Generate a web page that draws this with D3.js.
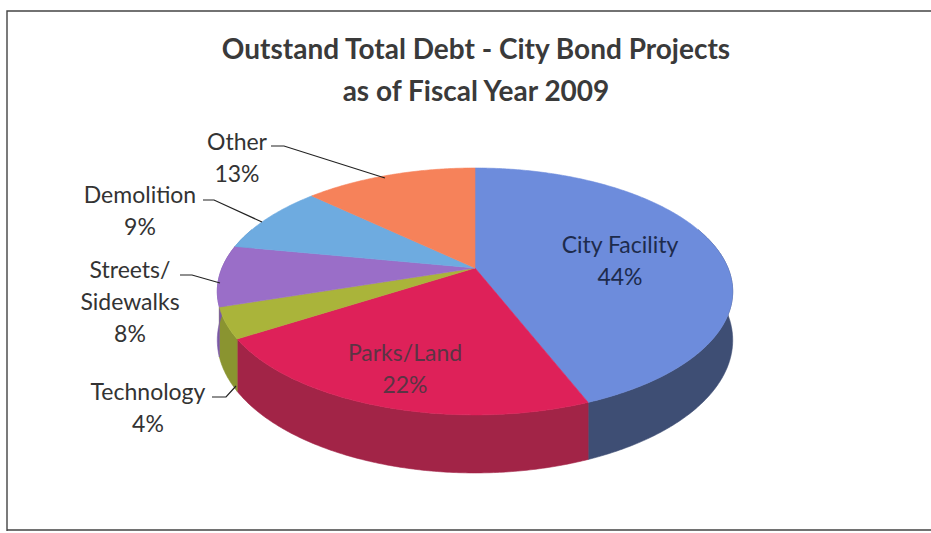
<!DOCTYPE html>
<html>
<head>
<meta charset="utf-8">
<script src="https://cdn.jsdelivr.net/npm/d3@7"></script>
<style>
  html, body { margin: 0; padding: 0; background: #fff; }
  svg { display: block; }
  text { font-family: Lato, "Noto Sans", sans-serif; }
</style>
</head>
<body>
<svg id="chart" width="931" height="533"></svg>
<script>
// Outstanding debt shares by project category (percent)
const categories = ["City Facility", "Parks/Land", "Technology", "Streets/Sidewalks", "Demolition", "Other"];
const shares = [44, 22, 4, 8, 9, 13];
const shareLabels = ["44%", "22%", "4%", "8%", "9%", "13%"];
const titleLines = ["Outstand Total Debt - City Bond Projects", "as of Fiscal Year 2009"];

const topColors  = ["#6d8cdc", "#de2159", "#aab43a", "#9a6ec8", "#6eabe0", "#f6825a"];
const sideColors = ["#3e4e74", "#a22447", "#8a9430", "#7a58a6", "#5a8cba", "#c8683f"];

const svg = d3.select("#chart");

// Frame
svg.append("path")
  .attr("d", "M7,531 L7,11 L931,11 M7,530 L931,530")
  .attr("fill", "none").attr("stroke", "#444").attr("stroke-width", 1.4);

// Title
const title = svg.append("g").attr("fill", "#3a3a3a")
  .attr("font-weight", "bold").attr("text-anchor", "middle");
title.selectAll("text").data(titleLines).join("text")
  .attr("x", 476)
  .attr("y", (d, i) => i === 0 ? 59 : 101)
  .attr("font-size", 28)
  .text(d => d);

// 3D pie geometry: a disc seen from above with mild perspective
const cx = 475, cy = 268, rx = 253, ry = 119, depth = 47, k = 0.19;

const pie = d3.pie().sort(null).value(d => d)
  .startAngle(0).endAngle(2 * Math.PI);
const arcs = pie(shares);

// angle (clockwise from 12 o'clock) -> screen point, dz = height below the top face
const proj = (a, dz = 0) => {
  const X = Math.sin(a), Z = -Math.cos(a);      // Z < 0 is the far side
  const f = 1 / (1 - k * Z);
  return [cx + rx * X * f, cy + (ry * Z + dz) * f];
};
const sample = (a0, a1, dz = 0) => {
  const n = Math.max(2, Math.ceil(Math.abs(a1 - a0) / 0.01));
  return d3.range(n + 1).map(i => proj(a0 + (a1 - a0) * i / n, dz));
};
const line = d3.line();

// Outer walls on the near side
const near0 = Math.PI / 2 - 0.35, near1 = 3 * Math.PI / 2 + 0.35;
const walls = svg.append("g");
arcs.forEach((d, i) => {
  const a0 = Math.max(d.startAngle, near0), a1 = Math.min(d.endAngle, near1);
  if (a1 <= a0) return;
  const pts = sample(a0, a1).concat(sample(a1, a0, depth));
  walls.append("path")
    .attr("d", line(pts) + "Z")
    .attr("fill", sideColors[i])
    .attr("stroke", sideColors[i]).attr("stroke-width", 0.6);
});

// Top faces
const tops = svg.append("g");
arcs.forEach((d, i) => {
  const pts = [proj(0, 0).map((v, j) => j === 0 ? cx : cy)].concat(sample(d.startAngle, d.endAngle));
  tops.append("path")
    .attr("d", line(pts) + "Z")
    .attr("fill", topColors[i])
    .attr("stroke", topColors[i]).attr("stroke-width", 0.6);
});

// Inside labels
const inside = [
  { i: 0, x: 620, y: 253, color: "#1d2b4c" },
  { i: 1, x: 405, y: 361, color: "#5b3444" }
];
inside.forEach(o => {
  const g = svg.append("g").attr("text-anchor", "middle").attr("fill", o.color).attr("font-size", 23);
  g.append("text").attr("x", o.x).attr("y", o.y).text(categories[o.i]);
  g.append("text").attr("x", o.x).attr("y", o.y + 32).text(shareLabels[o.i]);
});

// Outside labels with leader lines
const outside = [
  { i: 5, lines: ["Other", "13%"], x: 237, y: 150, leader: [[271, 146], [284, 146], [385, 178]] },
  { i: 4, lines: ["Demolition", "9%"], x: 140, y: 203, leader: [[203, 200], [214, 200], [262, 222]] },
  { i: 3, lines: ["Streets/", "Sidewalks", "8%"], x: 130, y: 278, leader: [[180, 275], [192, 275], [220, 283]] },
  { i: 2, lines: ["Technology", "4%"], x: 148, y: 400, leader: [[212, 397], [226, 397], [236, 386]] }
];
const outG = svg.append("g").attr("fill", "#333").attr("font-size", 23).attr("text-anchor", "middle");
outside.forEach(o => {
  o.lines.forEach((t, j) => {
    outG.append("text").attr("x", o.x).attr("y", o.y + j * 32).text(t);
  });
  svg.append("path").attr("d", line(o.leader))
    .attr("fill", "none").attr("stroke", "#222").attr("stroke-width", 1.2);
});
</script>
</body>
</html>
